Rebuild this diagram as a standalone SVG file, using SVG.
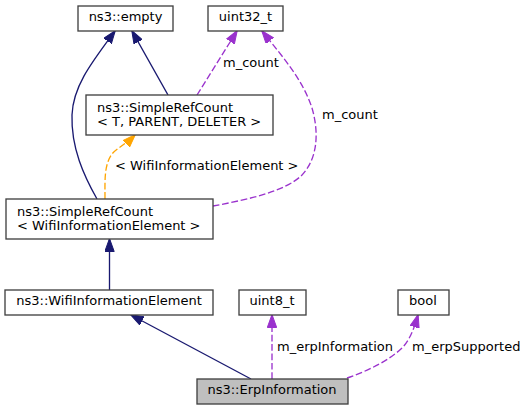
<svg xmlns="http://www.w3.org/2000/svg" width="525" height="411" viewBox="0 0 525 411">
<style>
.node rect{fill:#ffffff;stroke:#404040;stroke-width:1.33}
.node.focus rect{fill:#bfbfbf}
text{font-family:"DejaVu Sans","Liberation Sans",sans-serif;font-size:13px;fill:#000000}
.c{text-anchor:middle}
.e{fill:none;stroke-width:1.33}
.navy{stroke:#191970}
.purple{stroke:#9a32cd;stroke-dasharray:6.7,2.7}
.orange{stroke:#ffa500;stroke-dasharray:6.7,2.7}
</style>
<defs>
<marker id="an" viewBox="0 0 13 10" refX="12.5" refY="5" markerWidth="13" markerHeight="10" markerUnits="userSpaceOnUse" orient="auto"><path d="M0,0.3 L13,5 L0,9.7 z" fill="#191970" stroke="#191970" stroke-width="1"/></marker>
<marker id="ap" viewBox="0 0 13 10" refX="12.5" refY="5" markerWidth="13" markerHeight="10" markerUnits="userSpaceOnUse" orient="auto"><path d="M0,0.3 L13,5 L0,9.7 z" fill="#9a32cd" stroke="#9a32cd" stroke-width="1"/></marker>
<marker id="ao" viewBox="0 0 13 10" refX="12.5" refY="5" markerWidth="13" markerHeight="10" markerUnits="userSpaceOnUse" orient="auto"><path d="M0,0.3 L13,5 L0,9.7 z" fill="#ffa500" stroke="#ffa500" stroke-width="1"/></marker>
</defs>

<g id="connectors">
<path class="e navy" d="M97,199 C84,176 71,148 72,115 C73,86 92,62 115,31" marker-end="url(#an)"/>
<path class="e navy" d="M168,95 L132,31" marker-end="url(#an)"/>
<path class="e purple" d="M197,95 L237,31" marker-end="url(#ap)"/>
<text x="223" y="67">m_count</text>
<path class="e purple" d="M213,206 C245,200 285,192 302,175 C318,158 319,132 312,108 C303,80 282,56 262,31" marker-end="url(#ap)"/>
<text x="322" y="119">m_count</text>
<path class="e orange" d="M105,199 C105,180 104,165 112,154 C116,149 127,143 135,135" marker-end="url(#ao)"/>
<text x="115" y="170">&lt; WifiInformationElement &gt;</text>
<path class="e navy" d="M109.5,290 L109.5,239" marker-end="url(#an)"/>
<path class="e navy" d="M251,379 L131,315" marker-end="url(#an)"/>
<path class="e purple" d="M272,379 L272,315" marker-end="url(#ap)"/>
<text x="277" y="351">m_erpInformation</text>
<path class="e purple" d="M347,378 C368,371 390,360 403,347 C410,339 414,329 418,315" marker-end="url(#ap)"/>
<text x="412" y="351">m_erpSupported</text>
</g>

<g id="n_empty" class="node"><rect x="78" y="6" width="95" height="25"/><text class="c" x="125.5" y="21">ns3::empty</text></g>
<g id="n_uint32" class="node"><rect x="208" y="6" width="75" height="25"/><text class="c" x="245.5" y="21">uint32_t</text></g>
<g id="n_src_t" class="node"><rect x="86" y="95" width="187" height="40"/><text x="97" y="111.5">ns3::SimpleRefCount</text><text x="97" y="126">&lt; T, PARENT, DELETER &gt;</text></g>
<g id="n_src_wie" class="node"><rect x="6" y="199" width="207" height="40"/><text x="17" y="215.5">ns3::SimpleRefCount</text><text x="17" y="230">&lt; WifiInformationElement &gt;</text></g>
<g id="n_wie" class="node"><rect x="5" y="290" width="208" height="25"/><text class="c" x="109" y="305">ns3::WifiInformationElement</text></g>
<g id="n_uint8" class="node"><rect x="239" y="290" width="67" height="25"/><text class="c" x="272" y="305">uint8_t</text></g>
<g id="n_bool" class="node"><rect x="398" y="290" width="51" height="25"/><text class="c" x="423" y="305">bool</text></g>
<g id="n_erp" class="node focus"><rect x="197" y="379" width="151" height="25"/><text class="c" x="272" y="394">ns3::ErpInformation</text></g>
</svg>
